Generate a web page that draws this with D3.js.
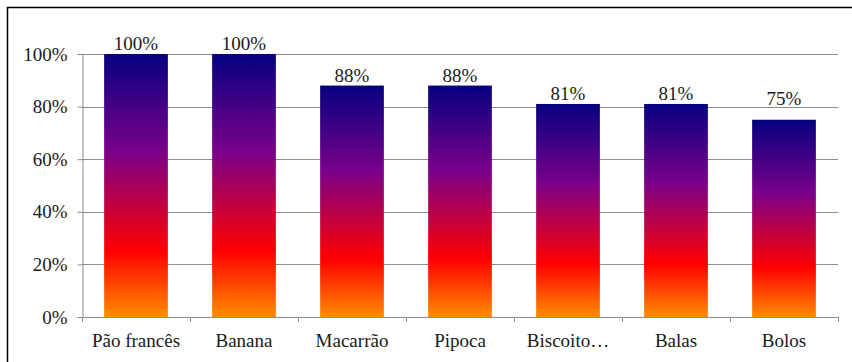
<!DOCTYPE html>
<html>
<head>
<meta charset="utf-8">
<script src="https://cdn.jsdelivr.net/npm/d3@7"></script>
<style>
  html, body { margin: 0; padding: 0; background: #fff; }
  svg { display: block; }
</style>
</head>
<body>
<svg id="chart" width="852" height="362"></svg>
<script>
// Share of respondents per food item
const categories = ["Pão francês", "Banana", "Macarrão", "Pipoca", "Biscoito…", "Balas", "Bolos"];
const values = [1.00, 1.00, 0.88, 0.88, 0.81, 0.81, 0.75];
const yTicks = [0, 0.2, 0.4, 0.6, 0.8, 1.0];

const W = 852, H = 362;
const margin = { left: 82, right: 14, top: 54, bottom: 45 };
const FONT = "'Liberation Serif'";
const FS = 19;
const INK = "#1a1a1a";

const svg = d3.select("#chart");

// Outer frame (top and left edges fall inside the image)
svg.append("rect")
  .attr("x", 7.5).attr("y", 7.5)
  .attr("width", W + 20).attr("height", H + 20)
  .attr("fill", "none").attr("stroke", "#000").attr("stroke-width", 1.5);

const x = d3.scaleBand()
  .domain(categories)
  .range([margin.left, W - margin.right])
  .paddingInner(0.41).paddingOuter(0.205);

const y = d3.scaleLinear()
  .domain([0, 1])
  .range([H - margin.bottom, margin.top]);

// Vertical fire gradient, spanning each bar's own height
const defs = svg.append("defs");
const grad = defs.append("linearGradient")
  .attr("id", "fire")
  .attr("x1", 0).attr("y1", 0).attr("x2", 0).attr("y2", 1);
[
  [0, "#06007f"],
  [0.37, "#7a008a"],
  [0.75, "#ff0000"],
  [1, "#ff8c00"]
].forEach(([o, c]) => grad.append("stop").attr("offset", o).attr("stop-color", c));

// Gridlines
svg.append("g")
  .selectAll("line")
  .data(yTicks.filter(d => d > 0))
  .join("line")
  .attr("x1", margin.left).attr("x2", W - margin.right)
  .attr("y1", d => Math.round(y(d)) + 0.5).attr("y2", d => Math.round(y(d)) + 0.5)
  .attr("stroke", "#8c8c8c").attr("stroke-width", 1);

// Y axis
const yAxis = svg.append("g")
  .attr("transform", `translate(${margin.left + 0.5},0)`)
  .call(d3.axisLeft(y).tickValues(yTicks).tickFormat(d3.format(".0%")).tickSize(5).tickPadding(10));
yAxis.selectAll("path, line").attr("stroke", "#8c8c8c");
yAxis.selectAll("text")
  .style("font-family", FONT)
  .style("font-size", FS + "px")
  .attr("fill", INK);

// Bars
svg.append("g")
  .selectAll("rect")
  .data(categories)
  .join("rect")
  .attr("x", d => x(d))
  .attr("y", (d, i) => y(values[i]))
  .attr("width", x.bandwidth())
  .attr("height", (d, i) => y(0) - y(values[i]))
  .attr("fill", "url(#fire)");

// X axis with ticks between categories
const xEdges = d3.range(categories.length + 1).map(i => margin.left + i * (W - margin.right - margin.left) / categories.length);
const xAxisG = svg.append("g");
xAxisG.append("line")
  .attr("x1", margin.left).attr("x2", W - margin.right)
  .attr("y1", Math.round(y(0)) + 0.5).attr("y2", Math.round(y(0)) + 0.5)
  .attr("stroke", "#8c8c8c");
xAxisG.selectAll("line.tick")
  .data(xEdges)
  .join("line")
  .attr("class", "tick")
  .attr("x1", d => Math.round(d) + 0.5).attr("x2", d => Math.round(d) + 0.5)
  .attr("y1", y(0)).attr("y2", y(0) + 5)
  .attr("stroke", "#8c8c8c");
xAxisG.selectAll("text")
  .data(categories)
  .join("text")
  .attr("x", d => x(d) + x.bandwidth() / 2)
  .attr("y", y(0) + 30)
  .attr("text-anchor", "middle")
  .style("font-family", FONT)
  .style("font-size", FS + "px")
  .attr("fill", INK)
  .text(d => d);

// Value labels; the last one sits a little higher, clear of the 80% gridline
svg.append("g")
  .selectAll("text")
  .data(categories)
  .join("text")
  .attr("x", d => x(d) + x.bandwidth() / 2)
  .attr("y", (d, i) => y(values[i]) - (i === categories.length - 1 ? 15 : 4))
  .attr("text-anchor", "middle")
  .style("font-family", FONT)
  .style("font-size", FS + "px")
  .attr("fill", INK)
  .text((d, i) => d3.format(".0%")(values[i]));
</script>
</body>
</html>
